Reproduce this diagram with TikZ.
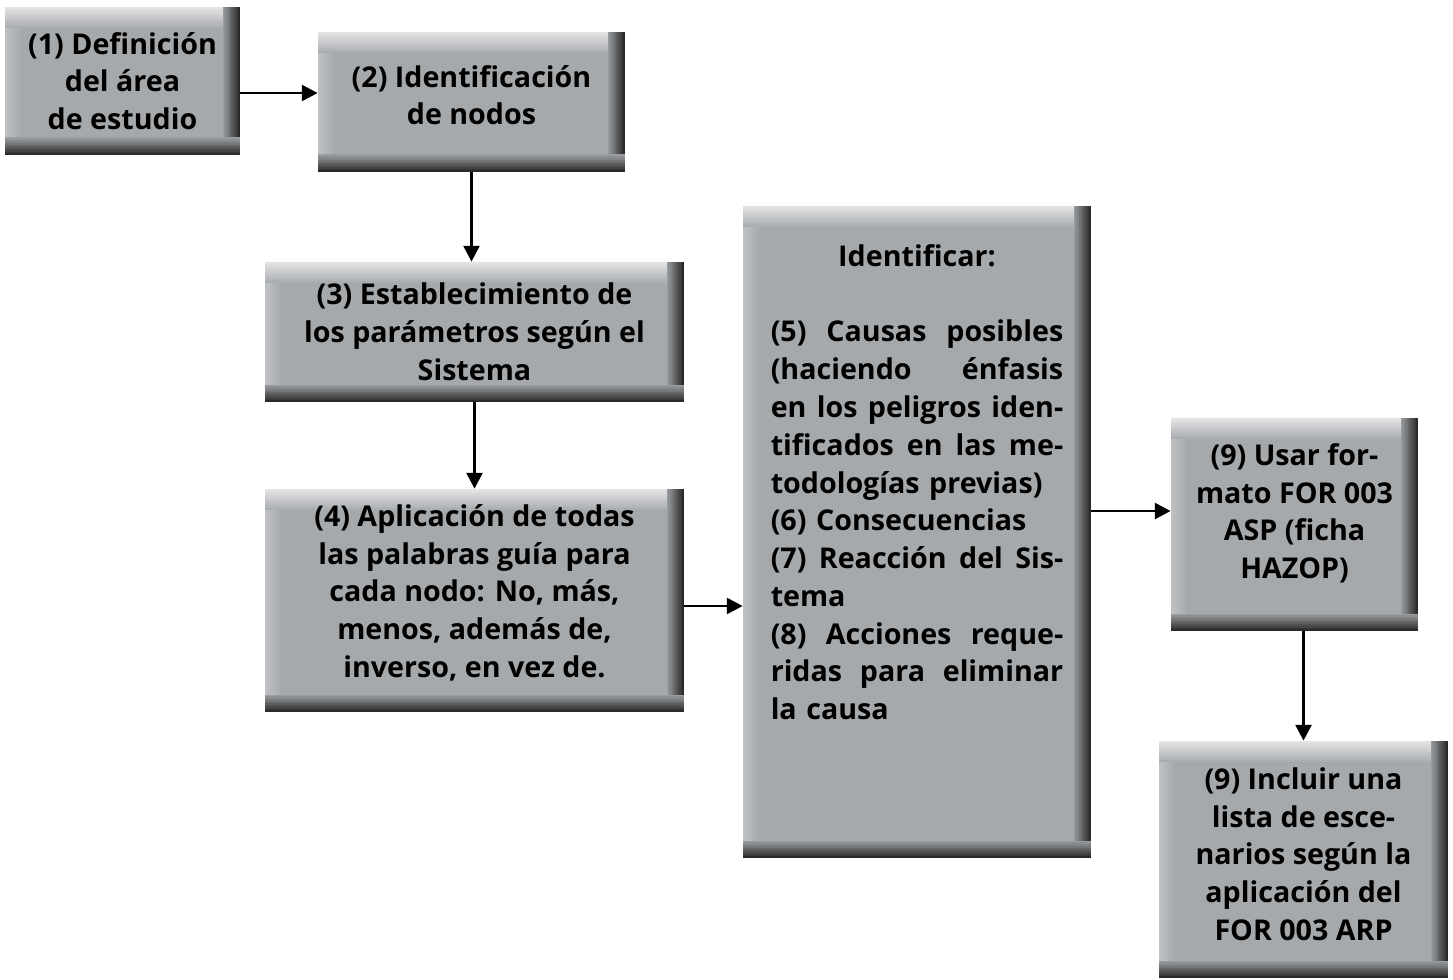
\documentclass[tikz,border=0pt]{standalone}
\usepackage{fontspec}
\setmainfont{Open Sans}
\usetikzlibrary{arrows.meta}
\definecolor{boxgrey}{HTML}{A6A9AC}
\definecolor{boxlight}{HTML}{E2E3E4}
\definecolor{boxdark}{HTML}{2A2A2A}
\newcommand{\just}[1]{\leavevmode\hbox to 5.85cm{\spaceskip=0.28em plus 1fill\relax #1}}
\begin{document}
\begin{tikzpicture}[
    caja/.style={fill=boxgrey, align=center, inner sep=0pt,
        font=\bfseries\fontsize{16.3}{21.5}\selectfont,
        path picture={
            % borde izquierdo
            \foreach \i in {0,...,7}{
                \pgfmathsetmacro\p{40-\i*5}
                \fill[boxlight!\p!boxgrey] ([xshift=\i*0.04cm]path picture bounding box.north west)
                    rectangle ([xshift=\i*0.04cm+0.04cm]path picture bounding box.south west);
            }
            % borde superior
            \foreach \i in {0,...,11}{
                \pgfmathsetmacro\p{100-\i*8.3}
                \fill[boxlight!\p!boxgrey] ([yshift=-\i*0.035cm]path picture bounding box.north west)
                    rectangle ([yshift=-\i*0.035cm-0.035cm]path picture bounding box.north east);
            }
            % borde derecho
            \foreach \i in {0,...,9}{
                \pgfmathsetmacro\p{100-\i*10}
                \fill[boxdark!\p!boxgrey] ([xshift=-\i*0.035cm]path picture bounding box.north east)
                    rectangle ([xshift=-\i*0.035cm-0.035cm]path picture bounding box.south east);
            }
            % borde inferior
            \foreach \i in {0,...,9}{
                \pgfmathsetmacro\p{100-\i*10}
                \fill[boxdark!\p!boxgrey] ([yshift=\i*0.035cm]path picture bounding box.south west)
                    rectangle ([yshift=\i*0.035cm+0.035cm]path picture bounding box.south east);
            }
        }},
    flecha/.style={-{Triangle[length=9pt,width=9pt]}, line width=1.7pt}
]
\useasboundingbox (0,0) rectangle (29.06,-19.6);

% cajas
\node[caja, minimum width=4.7cm, minimum height=2.96cm] (n1) at (2.45,-1.62)
    {(1) Definición\\ del área\\ de estudio};
\node[caja, minimum width=6.14cm, minimum height=2.8cm] (n2) at (9.43,-2.04)
    {(2) Identificación\\ de nodos\rule[-0.28cm]{0pt}{0pt}};
\node[caja, minimum width=8.38cm, minimum height=2.8cm] (n3) at (9.49,-6.64)
    {(3) Establecimiento de\\ los parámetros según el\\ Sistema};
\node[caja, minimum width=8.38cm, minimum height=4.46cm] (n4) at (9.49,-12.01)
    {(4) Aplicación de todas\\ las palabras guía para\\ cada nodo: No, más,\\ menos, además de,\\ inverso, en vez de.\rule[-0.38cm]{0pt}{0pt}};
\node[caja, minimum width=6.96cm, minimum height=13.04cm, text width=5.85cm, align=left] (n5) at (18.34,-10.64)
    {\leavevmode\hbox to 5.85cm{\hfil Identificar:\hfil}\\[0.76cm]
     \just{(5) Causas posibles}\\
     \just{(haciendo énfasis}\\
     \just{en los peligros iden-}\\
     \just{tificados en las me-}\\
     todologías previas)\\
     (6) Consecuencias\\
     \just{(7) Reacción del Sis-}\\
     tema\\
     \just{(8) Acciones reque-}\\
     \just{ridas para eliminar}\\
     la causa\rule[-2cm]{0pt}{0pt}};
\node[caja, minimum width=4.94cm, minimum height=4.26cm] (n6) at (25.89,-10.49)
    {(9) Usar for-\\ mato FOR 003\\ ASP (ficha\\ HAZOP)\rule[-0.54cm]{0pt}{0pt}};
\node[caja, minimum width=5.78cm, minimum height=4.74cm] (n7) at (26.07,-17.19)
    {(9) Incluir una\\ lista de esce-\\ narios según la\\ aplicación del\\ FOR 003 ARP\rule[-0.22cm]{0pt}{0pt}};

% flechas
\draw[flecha] ([yshift=-0.24cm]n1.east) -- ([yshift=-0.24cm]n1.east -| n2.west);
\draw[flecha] (n2.south) -- (n2.south |- n3.north);
\draw[flecha] (n3.south) -- (n3.south |- n4.north);
\draw[flecha] ([yshift=-0.11cm]n4.east) -- ([yshift=-0.11cm]n4.east -| n5.west);
\draw[flecha] ([yshift=0.27cm]n6.west -| n5.east) -- ([yshift=0.27cm]n6.west);
\draw[flecha] (n6.south -| n7.north) -- (n7.north);
\end{tikzpicture}
\end{document}
